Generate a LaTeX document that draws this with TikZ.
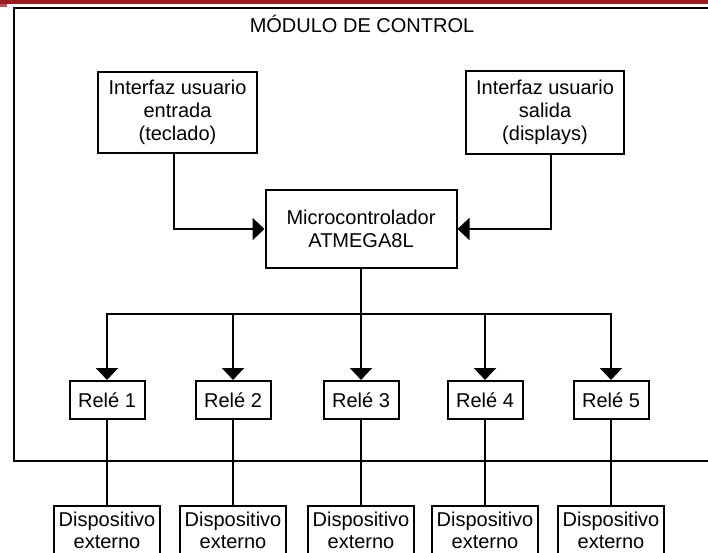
\documentclass[tikz,border=0pt]{standalone}
\usepackage{fontspec}
\setmainfont{Liberation Sans}
\usetikzlibrary{arrows.meta}
\definecolor{barred}{HTML}{9B1B1F}
\definecolor{barpink}{HTML}{C2505A}
\begin{document}
\begin{tikzpicture}[x=1pt,y=-1pt,
  txt/.style={font=\fontsize{20}{23}\selectfont},
  box/.style={draw, line width=2pt, inner sep=0pt, align=center, txt},
  wire/.style={line width=2pt},
  arr/.style={wire, -{Triangle[length=12pt,width=22pt]}}]
\useasboundingbox (0,0) rectangle (708,553);
% top bar
\fill[barred] (0,0) rectangle (708,4.3);
\fill[barpink] (0,4.3) rectangle (7,7.3);
% module frame
\draw[wire] (712,8.5) -- (14,8.5) -- (14,461) -- (712,461);
\node[txt] (title) at (362,24) {MÓDULO DE CONTROL};
% upper boxes
\node[box, minimum width=159pt, minimum height=81pt] (inp) at (177.5,112.5) {Interfaz usuario\\entrada\\(teclado)};
\node[box, minimum width=158pt, minimum height=83pt] (out) at (545,112.5) {Interfaz usuario\\salida\\(displays)};
\node[box, minimum width=191pt, minimum height=78pt] (mcu) at (361,229) {Microcontrolador\\ATMEGA8L};
\draw[arr] ([xshift=-3.5pt]inp.south) |- (mcu.west);
\draw[arr] ([xshift=6pt]out.south) |- (mcu.east);
\path (mcu.south) ++(0,45) coordinate (bus);
% relays and devices
\foreach \i/\x in {1/107,2/233,3/361,4/485,5/611}{
  \node[box, minimum width=75pt, minimum height=38pt] (r\i) at (\x,400) {Relé \i};
  \node[box, minimum width=106pt, minimum height=50pt, anchor=north,
        font=\fontsize{20}{22}\selectfont] (d\i) at (\x,504.5) {Dispositivo\\externo};
  \draw[arr] (mcu.south) -- (bus) -| (r\i.north);
  \draw[wire] (r\i.south) -- (d\i.north);
}
\end{tikzpicture}
\end{document}
